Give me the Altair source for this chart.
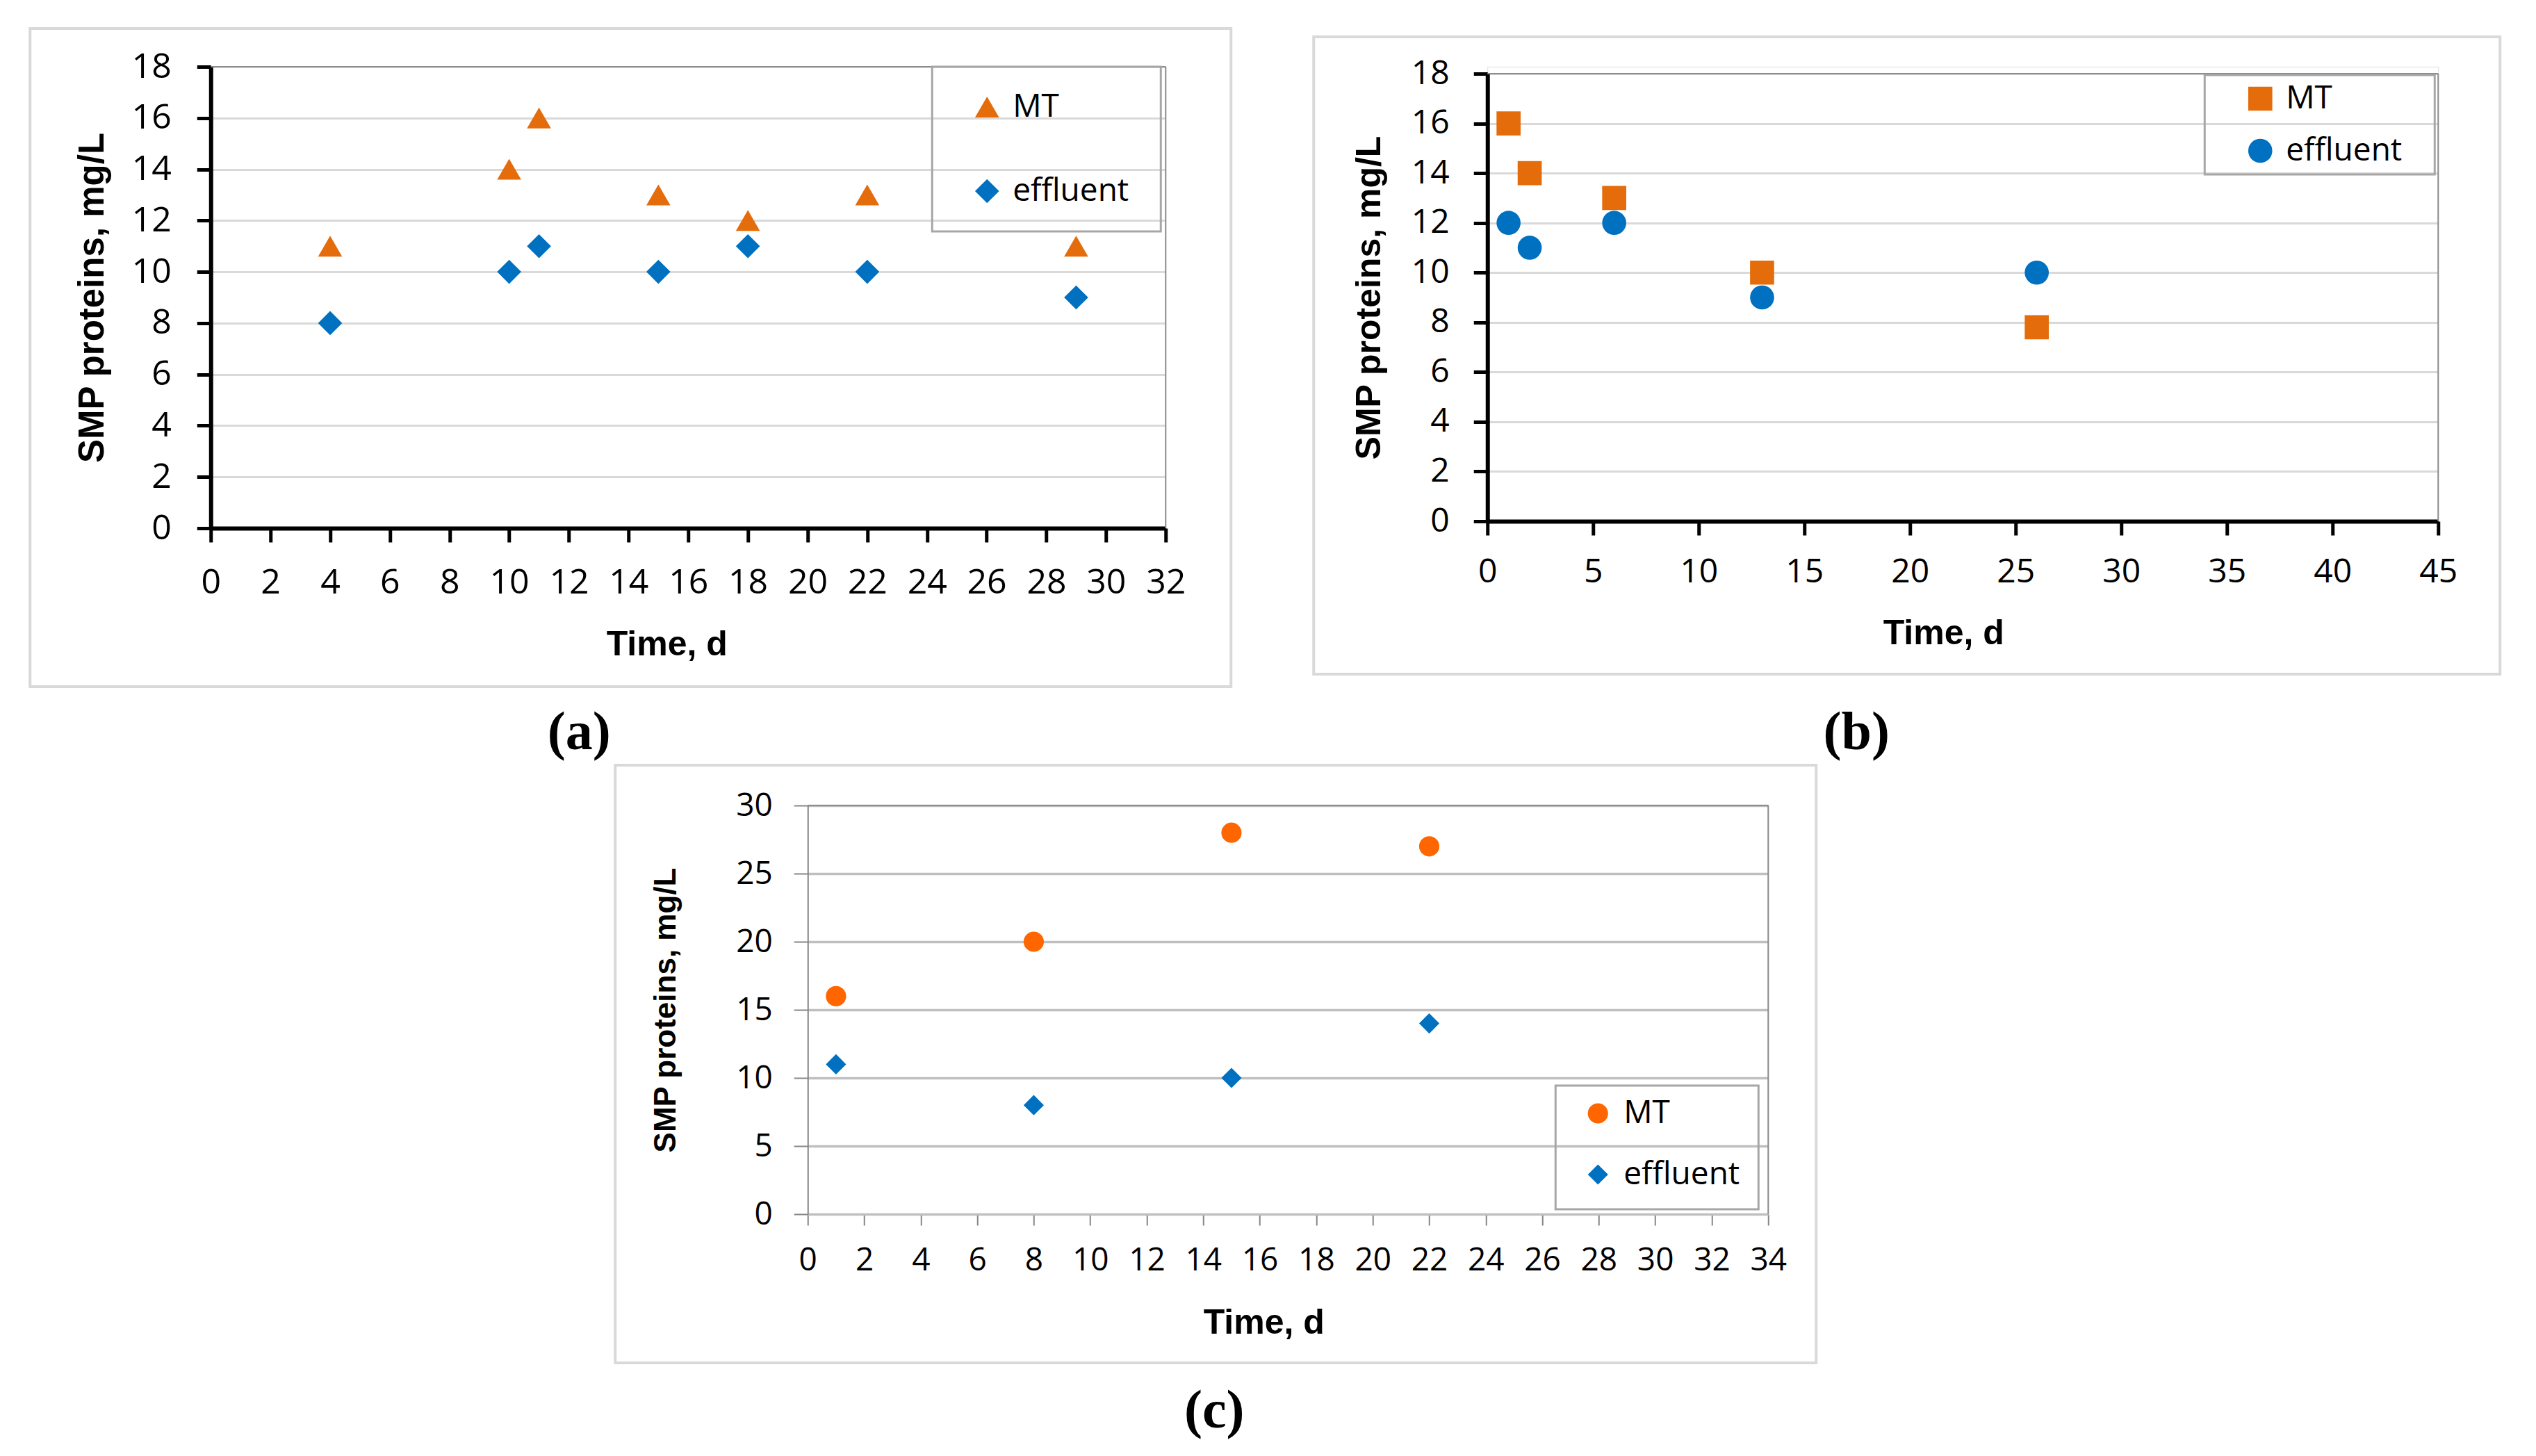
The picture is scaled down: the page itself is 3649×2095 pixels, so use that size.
import altair as alt
import pandas as pd

# (a)
a_time = [4, 10, 11, 15, 18, 22, 29]
a_mt = [11, 14, 16, 13, 12, 13, 11]
a_effluent = [8, 10, 11, 10, 11, 10, 9]
# (b)
b_time = [1, 2, 6, 13, 26]
b_mt = [16, 14, 13, 10, 7.8]
b_effluent = [12, 11, 12, 9, 10]
# (c)
c_time = [1, 8, 15, 22]
c_mt = [16, 20, 28, 27]
c_effluent = [11, 8, 10, 14]

series = ["MT", "effluent"]
a_xticks = list(range(0, 33, 2))
b_xticks = list(range(0, 46, 5))
c_xticks = list(range(0, 35, 2))
ab_yticks = list(range(0, 19, 2))
c_yticks = list(range(0, 31, 5))

ORANGE = "#E46C0A"
ORANGE_C = "#FF6600"
BLUE = "#0070C0"
Y_TITLE = "SMP proteins, mg/L"
X_TITLE = "Time, d"

deco = pd.DataFrame({"k": [0]})


def long_df(t, mt, eff):
    return pd.DataFrame({
        "time": t + t,
        "value": mt + eff,
        "series": ["MT"] * len(t) + ["effluent"] * len(t),
    })


def box(x, x2, y, y2, color, width):
    return alt.Chart(deco).mark_rect(fillOpacity=0, stroke=color, strokeWidth=width).encode(
        x=alt.value(x), x2=alt.value(x2), y=alt.value(y), y2=alt.value(y2)
    )


def panel(df, W, H, xmax, xticks, ymax, yticks, colors, shapes, size, s):
    off = s.get("yoff", 0)  # plot area pushed down inside its cell
    legend = alt.Legend(
        title=None, orient="none", legendX=s["lx"], legendY=s["ly"] + off,
        labelFont="Open Sans", labelFontSize=46, labelColor="black", labelLimit=500,
        labelOffset=14, rowPadding=s["rowpad"], padding=0,
        symbolSize=size, symbolStrokeWidth=0, symbolOpacity=1,
    )
    x_axis = alt.Axis(
        values=xticks, title=X_TITLE, grid=False,
        domainColor=s["xdom"], domainWidth=s["xdomw"],
        tickColor=s["tick"], tickWidth=s["tickw"], tickSize=s["xtick"],
        labelFont="Open Sans", labelFontSize=s["lfs"], labelColor="black",
        labelPadding=s["xlp"], labelBaseline="middle",
        labelFlush=False, labelOverlap=False,
        titleFont="Liberation Sans", titleFontWeight="bold", titleFontSize=50,
        titleColor="black", titleX=656, titleY=s["xty"], titleBaseline="middle",
    )
    y_axis = alt.Axis(
        values=yticks, title=Y_TITLE, grid=True,
        gridColor=s["grid"], gridWidth=s["gridw"],
        domainColor=s["ydom"], domainWidth=s["ydomw"],
        tickColor=s["tick"], tickWidth=s["tickw"], tickSize=20,
        labelFont="Open Sans", labelFontSize=s["lfs"], labelColor="black",
        labelPadding=s["ylp"], labelFlush=False, labelOverlap=False,
        titleFont="Liberation Sans", titleFontWeight="bold",
        titleFontSize=s["ytfs"], titleColor="black", titleAngle=270,
        titleX=s["ytx"], titleY=off + H / 2, titleBaseline="middle",
    )
    points = alt.Chart(df).mark_point(filled=True, opacity=1, size=size).encode(
        x=alt.X("time:Q", scale=alt.Scale(domain=[0, xmax], nice=False), axis=x_axis),
        y=alt.Y("value:Q", scale=alt.Scale(domain=[0, ymax], nice=False, range=[H + off, off]),
                axis=y_axis),
        color=alt.Color("series:N", scale=alt.Scale(domain=series, range=colors), legend=legend),
        shape=alt.Shape("series:N", scale=alt.Scale(domain=series, range=shapes), legend=legend),
    )
    # plot-area border (top and right)
    border = alt.Chart(deco).mark_rule(color=s["border"], strokeWidth=2)
    top_rule = border.encode(x=alt.value(0), x2=alt.value(W), y=alt.value(off))
    right_rule = border.encode(x=alt.value(W), y=alt.value(off), y2=alt.value(H + off))

    fx, fx2, fy, fy2 = s["frame"]
    frame = box(fx, fx2, fy + off, fy2 + off, "#D9D9D9", 4)
    bx, bx2, by, by2 = s["lbox"]
    lbox = box(bx, bx2, by + off, by2 + off, "#A6A6A6", 3)
    tx, ty, txt = s["label"]
    label = alt.Chart(deco).mark_text(
        font="Liberation Serif", fontSize=78, fontWeight="bold", color="black", baseline="middle"
    ).encode(x=alt.value(tx), y=alt.value(ty + off), text=alt.value(txt))
    layers = [frame, top_rule, right_rule, lbox, points, label]
    if "pad_right" in s:
        ghost = alt.Chart(deco).mark_rect(opacity=0).encode(
            x=alt.value(W), x2=alt.value(W + s["pad_right"]), y=alt.value(0), y2=alt.value(10)
        )
        layers.append(ghost)
    return alt.layer(*layers).properties(width=W, height=H + off)


ab_style = dict(xdom="black", xdomw=6, ydom="black", ydomw=6, tick="black", tickw=5,
                xtick=20, grid="#D9D9D9", gridw=3, border="#8C8C8C")

chart_a = panel(
    long_df(a_time, a_mt, a_effluent), 1374, 664, 32, a_xticks, 18, ab_yticks,
    [ORANGE, BLUE], ["triangle-up", "diamond"], 1200,
    dict(ab_style, lfs=50, xlp=58, ylp=37, xty=167, ytx=-170, ytfs=51,
         lx=1094, ly=35, rowpad=75,
         frame=(-260, 1468, -55, 892), lbox=(1038, 1367, 0, 237),
         label=(530, 959, "(a)")),
)

chart_b = panel(
    long_df(b_time, b_mt, b_effluent), 1368, 644, 45, b_xticks, 18, ab_yticks,
    [ORANGE, BLUE], ["square", "circle"], 1200,
    dict(ab_style, lfs=48, xlp=53, ylp=35, xty=161, ytx=-170, ytfs=50,
         lx=1089, ly=13, rowpad=29, yoff=10,
         frame=(-250, 1457, -53, 864), lbox=(1032, 1363, 2, 145),
         label=(531, 949, "(b)")),
)

chart_c = panel(
    long_df(c_time, c_mt, c_effluent), 1382, 588, 34, c_xticks, 30, c_yticks,
    [ORANGE_C, BLUE], ["circle", "diamond"], 850,
    dict(xdom="#BFBFBF", xdomw=3, ydom="#868686", ydomw=2, tick="#868686", tickw=2,
         xtick=16, grid="#BFBFBF", gridw=3.5, border="#8C8C8C",
         lfs=46, xlp=50, ylp=31, xty=156, ytx=-204, ytfs=44,
         lx=1114, ly=420, rowpad=42,
         frame=(-277, 1451, -58, 802), lbox=(1076, 1368, 403, 581),
         label=(585, 872, "(c)"), pad_right=196),
)

top = alt.hconcat(chart_a, chart_b, spacing=113).resolve_scale(
    color="independent", shape="independent"
).resolve_legend(color="independent", shape="independent")
chart = alt.vconcat(top, chart_c, spacing=3, center=True).resolve_scale(
    color="independent", shape="independent"
).resolve_legend(color="independent", shape="independent").properties(
    padding={"left": 32, "top": 30, "right": 10, "bottom": 10}
).configure_view(strokeWidth=0).configure(background="white")

chart.save("out.html", embed_options={"renderer": "svg", "actions": False})
